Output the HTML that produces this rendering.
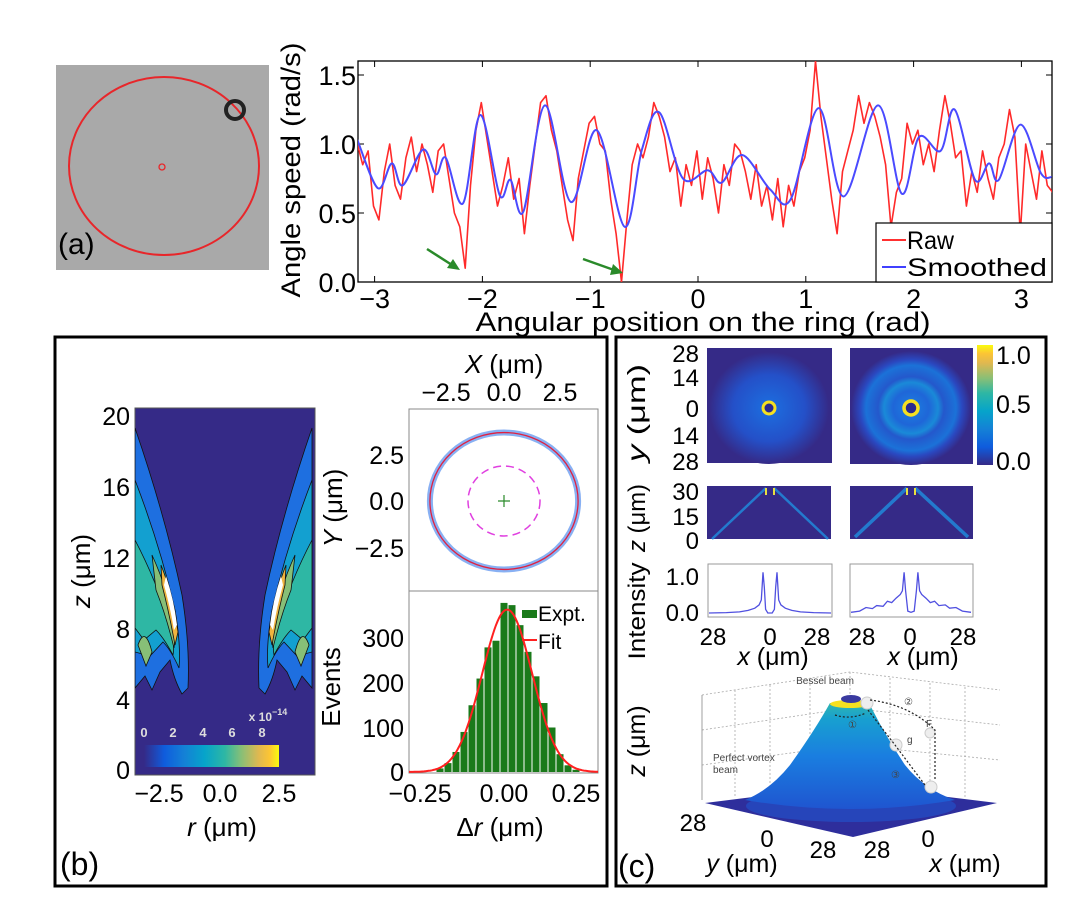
<!DOCTYPE html>
<html><head><meta charset="utf-8"><style>
html,body{margin:0;padding:0;background:#fff;}
svg{display:block;font-family:"Liberation Sans",Arial,sans-serif;}
</style></head><body>
<svg id="fig" width="1080" height="919" viewBox="0 0 1080 919" xmlns="http://www.w3.org/2000/svg">
<defs>
  <linearGradient id="parula" x1="0" x2="1" y1="0" y2="0">
    <stop offset="0" stop-color="#352a87"/><stop offset="0.15" stop-color="#0f5cdd"/><stop offset="0.3" stop-color="#1481d6"/>
    <stop offset="0.45" stop-color="#06a4ca"/><stop offset="0.6" stop-color="#2eb7a4"/><stop offset="0.72" stop-color="#87bf77"/>
    <stop offset="0.85" stop-color="#e0b850"/><stop offset="0.93" stop-color="#fcc534"/><stop offset="1" stop-color="#f9fb0e"/>
  </linearGradient>
  <linearGradient id="parulaV" x1="0" x2="0" y1="1" y2="0">
    <stop offset="0" stop-color="#352a87"/><stop offset="0.15" stop-color="#0f5cdd"/><stop offset="0.3" stop-color="#1481d6"/>
    <stop offset="0.45" stop-color="#06a4ca"/><stop offset="0.6" stop-color="#2eb7a4"/><stop offset="0.72" stop-color="#87bf77"/>
    <stop offset="0.85" stop-color="#e0b850"/><stop offset="0.93" stop-color="#fcc534"/><stop offset="1" stop-color="#f9fb0e"/>
  </linearGradient>
  <radialGradient id="glow1" cx="0.5" cy="0.5" r="0.5">
    <stop offset="0" stop-color="#1c6fe0"/><stop offset="0.6" stop-color="#2450c8"/><stop offset="1" stop-color="#352a87"/>
  </radialGradient>
  <radialGradient id="glow2" cx="0.5" cy="0.5" r="0.5">
    <stop offset="0" stop-color="#1a80e0"/><stop offset="0.3" stop-color="#1f66d8"/><stop offset="0.45" stop-color="#1a8ad8"/>
    <stop offset="0.55" stop-color="#2458cc"/><stop offset="0.75" stop-color="#1b72d8"/><stop offset="0.85" stop-color="#2a48c0"/><stop offset="1" stop-color="#352a87"/>
  </radialGradient>
  <linearGradient id="mount" x1="0" x2="0" y1="0" y2="1">
    <stop offset="0" stop-color="#2fb5b0"/><stop offset="0.15" stop-color="#18a0d0"/><stop offset="0.5" stop-color="#1a7ee0"/><stop offset="1" stop-color="#1f55d0"/>
  </linearGradient>
  <clipPath id="clipA"><rect x="358" y="61" width="694" height="221"/></clipPath>
  <clipPath id="clipC"><rect x="135" y="408" width="180" height="367"/></clipPath>
  <clipPath id="clipH"><rect x="409" y="591" width="189" height="182"/></clipPath>
</defs>

<g>
  <rect x="56" y="65" width="213" height="205" fill="#a9a9a9"/>
  <ellipse cx="164" cy="166" rx="95" ry="89" fill="none" stroke="#e8262a" stroke-width="2"/>
  <circle cx="162" cy="167" r="3" fill="none" stroke="#e8262a" stroke-width="1.3"/>
  <circle cx="235" cy="110" r="9" fill="none" stroke="#222" stroke-width="4"/>
  <text x="58" y="254" font-size="30" fill="#000">(a)</text>
</g>

<g id="chartA">
  <rect x="358" y="61" width="694" height="221" fill="#fff" stroke="#000" stroke-width="1.3"/>
  <g id="aTicks"></g>
  <g id="aSeries" clip-path="url(#clipA)"></g>
  <text transform="translate(300,170) rotate(-90)" text-anchor="middle" font-size="27" textLength="255" lengthAdjust="spacingAndGlyphs">Angle speed (rad/s)</text>
  <text x="703" y="331" text-anchor="middle" font-size="27" textLength="455" lengthAdjust="spacingAndGlyphs">Angular position on the ring (rad)</text>
  <g>
    <rect x="876" y="223" width="176" height="59" fill="#fff" stroke="#000" stroke-width="1.2"/>
    <line x1="882" y1="240" x2="906" y2="240" stroke="#ff3030" stroke-width="2"/>
    <text x="907" y="249" font-size="25" textLength="47" lengthAdjust="spacingAndGlyphs">Raw</text>
    <line x1="882" y1="267" x2="906" y2="267" stroke="#4040ff" stroke-width="2"/>
    <text x="907" y="276" font-size="25" textLength="140" lengthAdjust="spacingAndGlyphs">Smoothed</text>
  </g>
  <g stroke="#2a8a2a" fill="#2a8a2a" stroke-width="2.5">
    <line x1="427" y1="249" x2="452" y2="265"/><polygon points="460,270 447,268 453,259" stroke="none"/>
    <line x1="583" y1="259" x2="614" y2="270"/><polygon points="623,273 610,275 613,264" stroke="none"/>
  </g>
</g>

<rect x="55" y="337" width="552" height="549" fill="none" stroke="#000" stroke-width="3"/>
<rect x="616" y="337" width="430" height="549" fill="none" stroke="#000" stroke-width="3"/>
<text x="60" y="875" font-size="32">(b)</text>
<text x="618" y="877" font-size="32">(c)</text>

<g>
  <rect x="135" y="408" width="180" height="367" fill="#352a87" stroke="#555" stroke-width="1"/>
  <g clip-path="url(#clipC)">
    <g id="lobeL" stroke="#111" stroke-width="0.8">
      <path d="M135,428 Q165,515 182,595 Q190,645 188,688 L182,694 Q174,680 170,660 L160,672 L152,690 L145,676 L135,688 Z" fill="#1e6fe0"/>
      <path d="M135,480 Q160,545 175,610 Q181,645 179,668 Q171,650 163,642 L150,656 L135,652 Z" fill="#13a0d0"/>
      <path d="M135,540 Q156,580 170,625 Q175,645 173,655 Q164,638 156,630 L144,640 L135,628 Z" fill="#2eb7a4"/>
      <path d="M152,555 Q168,590 176,630 L174,648 Q166,615 156,590 Z" fill="#87bf77"/>
      <path d="M161,565 Q173,595 178,632 L175,645 Q169,612 162,585 Z" fill="#f0b440"/>
      <path d="M166,576 Q174,600 177,625 L174,630 Q170,606 164,585 Z" fill="#fff" stroke="none"/>
      <path d="M138,645 Q145,625 152,652 L146,666 Z" fill="#87bf77"/>
    </g>
    <use href="#lobeL" transform="translate(447,0) scale(-1,1)"/>
  </g>
  <rect x="144" y="745" width="135" height="22" fill="url(#parula)"/>
  <g font-size="13" font-weight="bold" fill="#ddd" text-anchor="middle">
    <text x="144" y="737">0</text><text x="173" y="737">2</text><text x="203" y="737">4</text><text x="232" y="737">6</text><text x="262" y="737">8</text>
    <text x="268" y="721" font-size="12">x 10<tspan dy="-6" font-size="9">−14</tspan></text>
  </g>
  <g font-size="25" text-anchor="end">
    <text x="130" y="425">20</text><text x="130" y="496">16</text><text x="130" y="567">12</text><text x="130" y="638">8</text><text x="130" y="709">4</text><text x="130" y="779">0</text>
  </g>
  <g font-size="25" text-anchor="middle">
    <text x="159" y="802">−2.5</text><text x="220" y="802">0.0</text><text x="279" y="802">2.5</text>
  </g>
  <text x="222" y="836" font-size="26" text-anchor="middle"><tspan font-style="italic">r</tspan> (μm)</text>
  <text transform="translate(90,571) rotate(-90)" font-size="26" text-anchor="middle"><tspan font-style="italic">z</tspan> (μm)</text>
</g>

<g id="scatter">
  <rect x="409" y="409" width="189" height="182" fill="#fff" stroke="#888" stroke-width="1"/>
  <text x="504" y="373" font-size="26" text-anchor="middle"><tspan font-style="italic">X</tspan> (μm)</text>
  <g font-size="25" text-anchor="middle"><text x="446" y="401">−2.5</text><text x="504" y="401">0.0</text><text x="560" y="401">2.5</text></g>
  <g font-size="25" text-anchor="end"><text x="404" y="464">2.5</text><text x="404" y="510">0.0</text><text x="404" y="557">−2.5</text></g>
  <text transform="translate(342,508) rotate(-90)" font-size="26" text-anchor="middle"><tspan font-style="italic">Y</tspan> (μm)</text>
</g>

<g id="hist">
  <rect x="409" y="591" width="189" height="182" fill="#fff" stroke="#888" stroke-width="1"/>
  <g id="hBars" clip-path="url(#clipH)"></g>
  <g font-size="25" text-anchor="end"><text x="404" y="781">0</text><text x="404" y="737">100</text><text x="404" y="692">200</text><text x="404" y="647">300</text></g>
  <g font-size="25" text-anchor="middle"><text x="420" y="802">−0.25</text><text x="504" y="802">0.00</text><text x="576" y="802">0.25</text></g>
  <text x="500" y="836" font-size="26" text-anchor="middle">Δ<tspan font-style="italic">r</tspan> (μm)</text>
  <text transform="translate(340,687) rotate(-90)" font-size="26" text-anchor="middle">Events</text>
  <rect x="522" y="610" width="15" height="8" fill="#1a7a1a"/>
  <text x="538" y="621" font-size="21">Expt.</text>
  <line x1="522" y1="640" x2="537" y2="640" stroke="#ff2020" stroke-width="2"/>
  <text x="538" y="649" font-size="21">Fit</text>
</g>

<g>
  <rect x="707" y="348" width="125" height="115" fill="#352a87"/>
  <ellipse cx="769" cy="408" rx="60" ry="56" fill="url(#glow1)"/>
  <circle cx="769" cy="408" r="6" fill="#2a2a90" stroke="#f5e020" stroke-width="3"/>
  <rect x="850" y="348" width="123" height="116" fill="#352a87"/>
  <ellipse cx="911" cy="408" rx="60" ry="57" fill="url(#glow2)"/>
  <circle cx="911" cy="408" r="7" fill="#2a2a90" stroke="#f5e020" stroke-width="3.5"/>
  <rect x="977" y="345" width="16" height="120" fill="url(#parulaV)"/>
  <g font-size="25"><text x="996" y="364">1.0</text><text x="996" y="413">0.5</text><text x="996" y="470">0.0</text></g>
  <g font-size="24" text-anchor="end"><text x="699" y="362">28</text><text x="699" y="386">14</text><text x="699" y="417">0</text><text x="699" y="444">14</text><text x="699" y="470">28</text></g>
  <text transform="translate(645,413) rotate(-90)" font-size="25" text-anchor="middle" textLength="98" lengthAdjust="spacingAndGlyphs"><tspan font-style="italic">y</tspan> (μm)</text>

  <rect x="707" y="486" width="124" height="53" fill="#352a87"/>
  <path d="M766,488 L712,539 M774,488 L828,539" stroke="#1f8fe0" stroke-width="2.5" opacity="0.8"/>
  <path d="M766,488 L766,495 M774,488 L774,495" stroke="#e8e040" stroke-width="2"/>
  <rect x="850" y="486" width="123" height="53" fill="#352a87"/>
  <path d="M907,488 L855,537 M915,488 L968,537" stroke="#1f8fe0" stroke-width="3.5" opacity="0.8"/>
  <path d="M907,488 L907,495 M915,488 L915,495" stroke="#e8e040" stroke-width="2"/>
  <g font-size="24" text-anchor="end"><text x="699" y="500">30</text><text x="699" y="525">15</text><text x="699" y="549">0</text></g>
  <text transform="translate(645,518) rotate(-90)" font-size="24" text-anchor="middle" textLength="68" lengthAdjust="spacingAndGlyphs"><tspan font-style="italic">z</tspan> (μm)</text>
</g>

<g id="profiles">
  <rect x="708" y="564" width="124" height="53" fill="#fff" stroke="#999" stroke-width="1"/>
  <rect x="850" y="564" width="123" height="53" fill="#fff" stroke="#999" stroke-width="1"/>
  <g font-size="24" text-anchor="end"><text x="699" y="585">1.0</text><text x="699" y="621">0.0</text></g>
  <text transform="translate(645,611) rotate(-90)" font-size="24" text-anchor="middle" textLength="97" lengthAdjust="spacingAndGlyphs">Intensity</text>
  <g font-size="24" text-anchor="middle">
    <text x="713" y="645">28</text><text x="770" y="645">0</text><text x="817" y="645">28</text>
    <text x="862" y="645">28</text><text x="910" y="645">0</text><text x="963" y="645">28</text>
  </g>
  <text x="773" y="665" font-size="25" text-anchor="middle"><tspan font-style="italic">x</tspan> (μm)</text>
  <text x="923" y="665" font-size="25" text-anchor="middle"><tspan font-style="italic">x</tspan> (μm)</text>
</g>

<g>
  <g stroke="#aaa" stroke-width="0.8" stroke-dasharray="2,2" fill="none">
    <path d="M702,695 L850,672 L1000,690"/><path d="M702,730 L850,708 L1000,725"/><path d="M702,765 L850,745 L1000,760"/>
    <path d="M735,690 L735,797 M770,685 L770,792 M810,680 L810,787 M850,672 L850,783 M890,678 L890,788 M930,683 L930,792 M965,687 L965,797"/>
  </g>
  <line x1="702" y1="695" x2="702" y2="800" stroke="#888" stroke-width="0.8"/>
  <polygon points="705,803 850,785 997,803 853,837" fill="#2e2e9c"/>
  <ellipse cx="851" cy="806" rx="105" ry="16" fill="#2450c8" opacity="0.7"/>
  <path d="M745,800 Q770,790 790,765 Q815,730 830,703 L870,705 Q885,735 905,765 Q925,790 955,800 Q850,818 745,800 Z" fill="url(#mount)"/>
  <ellipse cx="850" cy="704" rx="20" ry="4" fill="#f5e020"/>
  <ellipse cx="851" cy="699" rx="10" ry="4" fill="#3a3aa0"/>
  <g fill="#eee" stroke="#ccc"><circle cx="867" cy="703" r="6"/><circle cx="896" cy="745" r="6"/><circle cx="930" cy="733" r="5"/><circle cx="931" cy="787" r="6"/></g>
  <g fill="none" stroke="#222" stroke-width="1.2" stroke-dasharray="2,2">
    <path d="M835,715 Q850,720 866,713"/><path d="M868,710 L895,745 L925,785"/><path d="M870,700 Q910,705 935,730 L935,780"/>
  </g>
  <g font-size="10" fill="#444">
    <text x="825" y="684" text-anchor="middle">Bessel beam</text>
    <text x="713" y="761">Perfect vortex</text><text x="713" y="773">beam</text>
    <text x="926" y="727">F</text><text x="907" y="743">g</text>
    <text x="848" y="728">①</text><text x="904" y="705">②</text><text x="891" y="778">③</text>
  </g>
  <g font-size="24" text-anchor="middle">
    <text x="693" y="831">28</text><text x="767" y="847">0</text><text x="823" y="858">28</text><text x="877" y="858">28</text><text x="928" y="847">0</text>
  </g>
  <text x="742" y="872" font-size="25" text-anchor="middle"><tspan font-style="italic">y</tspan> (μm)</text>
  <text x="965" y="872" font-size="25" text-anchor="middle"><tspan font-style="italic">x</tspan> (μm)</text>
  <text transform="translate(645,741) rotate(-90)" font-size="25" text-anchor="middle"><tspan font-style="italic">z</tspan> (μm)</text>
</g>
</svg>
<script>
const aXTicks = [-3, -2, -1, 0, 1, 2, 3];
const aYTicks = [0.0, 0.5, 1.0, 1.5];
const aYTickLabels = ["0.0", "0.5", "1.0", "1.5"];
const smoothX = [-3.16,-2.97,-2.84,-2.74,-2.55,-2.43,-2.34,-2.18,-2.02,-1.84,-1.74,-1.62,-1.42,-1.18,-0.94,-0.68,-0.52,-0.36,-0.14,0.09,0.22,0.41,0.67,0.86,1.12,1.35,1.67,1.89,2.05,2.25,2.38,2.57,2.70,2.79,2.99,3.18,3.28];
const smoothY = [1.03,0.68,0.86,0.70,0.96,0.78,0.90,0.57,1.21,0.63,0.74,0.51,1.28,0.58,1.10,0.40,0.96,1.23,0.75,0.81,0.72,0.92,0.67,0.60,1.26,0.62,1.28,0.64,1.05,0.95,1.25,0.74,0.86,0.74,1.14,0.79,0.76];
const rawStart = -3.16;
const rawStep = 0.05;
const rawY = [1.0,0.85,0.95,0.55,0.45,0.8,1.0,0.7,0.6,0.9,1.05,0.8,1.0,0.85,0.65,0.95,1.0,0.75,0.5,0.4,0.1,0.7,1.1,1.3,1.05,0.8,0.55,0.7,0.9,0.6,0.75,0.35,0.7,1.0,1.3,1.35,1.1,0.95,0.7,0.45,0.3,0.75,0.95,1.15,1.2,1.0,0.95,0.6,0.35,0.0,0.45,0.85,1.0,0.9,1.05,1.3,1.2,1.05,0.8,0.9,0.55,0.85,0.7,0.95,0.6,0.9,0.75,0.5,0.85,0.7,1.0,0.95,0.8,0.6,0.85,0.55,0.7,0.45,0.75,0.4,0.7,0.55,0.8,0.9,1.1,1.6,1.2,0.9,0.6,0.35,0.8,0.95,1.1,1.35,1.15,1.3,1.2,1.05,0.85,0.4,0.65,0.75,1.15,1.0,1.1,0.85,1.0,0.8,1.1,1.35,1.15,0.9,0.95,0.55,0.8,0.65,0.95,0.75,0.6,0.9,1.0,1.25,1.05,0.35,1.0,0.8,0.6,0.95,0.7,0.65];
const ringR = [3.25, 3.72];
const innerR = [1.58, 1.9];
const histX = [-0.20,-0.175,-0.15,-0.125,-0.10,-0.075,-0.05,-0.025,0.0,0.025,0.05,0.075,0.10,0.125,0.15,0.175,0.20,0.225];
const histY = [8,20,45,90,150,210,280,295,380,375,330,270,215,155,100,40,15,5];
const fitAmp = [365];
const fitMean = [0.01];
const fitSigma = [0.078];
const prof1X = [-28,-20,-14,-10,-7,-5,-4,-3.2,-2.6,-2,-1,0,1,2,2.6,3.2,4,5,7,10,14,20,28];
const prof1Y = [0,0.01,0.03,0.07,0.13,0.22,0.35,1.1,0.7,0.1,0,0,0,0.1,0.7,1.1,0.35,0.22,0.13,0.07,0.03,0.01,0];
const prof2X = [-28,-24,-21,-18,-16,-13,-11,-9,-7,-5,-4,-3.2,-2.5,-1.5,0,1.5,2.5,3.2,4,5,7,9,11,13,16,18,21,24,28];
const prof2Y = [0.02,0.05,0.15,0.12,0.2,0.18,0.32,0.28,0.4,0.5,0.6,1.1,0.6,0.05,0.02,0.05,0.6,1.1,0.6,0.5,0.4,0.28,0.32,0.2,0.22,0.13,0.15,0.05,0.02];

const NS = "http://www.w3.org/2000/svg";
function mk(tag, attrs, parent){ const e=document.createElementNS(NS,tag); for(const k in attrs) e.setAttribute(k,attrs[k]); parent.appendChild(e); return e; }

const xa = v => 698 + v*107.8;
const ya = v => 282 - v*138;
const aTicks = document.getElementById('aTicks');
aXTicks.forEach(t=>{
  mk('line',{x1:xa(t),x2:xa(t),y1:282,y2:276,stroke:'#000'},aTicks);
  mk('line',{x1:xa(t),x2:xa(t),y1:61,y2:67,stroke:'#000'},aTicks);
  const tx = mk('text',{x:xa(t),y:308,'font-size':27,'text-anchor':'middle'},aTicks);
  tx.textContent = t<0 ? '−'+Math.abs(t) : String(t);
  
  
});
aYTicks.forEach((t,i)=>{
  mk('line',{x1:358,x2:364,y1:ya(t),y2:ya(t),stroke:'#000'},aTicks);
  mk('line',{x1:1052,x2:1046,y1:ya(t),y2:ya(t),stroke:'#000'},aTicks);
  const tx = mk('text',{x:356,y:ya(t)+10,'font-size':27,'text-anchor':'end'},aTicks);
  tx.textContent = aYTickLabels[i];
  
  
});
const aS = document.getElementById('aSeries');
const rawPts = rawY.map((v,i)=>xa(rawStart+i*rawStep).toFixed(1)+','+ya(v).toFixed(1)).join(' ');
const rawLine = mk('polyline',{points:rawPts,fill:'none',stroke:'#ff2a2a','stroke-width':1.6,'stroke-linejoin':'round'},aS);


const smPts = smoothX.map((x,i)=>[xa(x),ya(smoothY[i])]);
let d = 'M'+smPts[0][0]+','+smPts[0][1];
for(let i=0;i<smPts.length-1;i++){
  const p0=smPts[Math.max(0,i-1)],p1=smPts[i],p2=smPts[i+1],p3=smPts[Math.min(smPts.length-1,i+2)];
  d+=' C'+(p1[0]+(p2[0]-p0[0])/6)+','+(p1[1]+(p2[1]-p0[1])/6)+' '+(p2[0]-(p3[0]-p1[0])/6)+','+(p2[1]-(p3[1]-p1[1])/6)+' '+p2[0]+','+p2[1];
}
const smLine = mk('path',{d:d,fill:'none',stroke:'#4a4aff','stroke-width':2},aS);



const xs = v => 504 + v*22.8;
const ys = v => 501 - v*18.4;
const sc = document.getElementById('scatter');
const band = mk('ellipse',{cx:xs(0),cy:ys(0),rx:ringR[0]*22.8,ry:ringR[1]*18.4,fill:'none',stroke:'#6a9cf0','stroke-width':6,opacity:0.8},sc);


const fitRing = mk('ellipse',{cx:xs(0),cy:ys(0),rx:ringR[0]*22.8,ry:ringR[1]*18.4,fill:'none',stroke:'#e02040','stroke-width':1.3},sc);


const inner = mk('ellipse',{cx:xs(0),cy:ys(0),rx:innerR[0]*22.8,ry:innerR[1]*18.4,fill:'none',stroke:'#e040e0','stroke-width':1.5,'stroke-dasharray':'8,5'},sc);


mk('path',{d:`M${xs(0)-6},${ys(0)} h12 M${xs(0)},${ys(0)-6} v12`,stroke:'#2a8a2a','stroke-width':1.2},sc);

const xh = v => 504 + v*320;
const yh = v => 772 - v*0.445;
const hb = document.getElementById('hBars');
histX.forEach((x,i)=>{
  const b = mk('rect',{x:xh(x)-3.5,y:yh(histY[i]),width:7,height:yh(0)-yh(histY[i]),fill:'#1a7a1a'},hb);
  
  
});
let fd='';
for(let v=-0.3; v<=0.3; v+=0.005){
  const g = fitAmp[0]*Math.exp(-Math.pow(v-fitMean[0],2)/(2*fitSigma[0]*fitSigma[0]));
  fd += (fd?' L':'M')+xh(v).toFixed(1)+','+yh(g).toFixed(1);
}
const fitC = mk('path',{d:fd,fill:'none',stroke:'#ff2020','stroke-width':2},hb);



const pr = document.getElementById('profiles');
const yp = v => 613 - v*37;
function prof(X,Y,cx,half,name){
  const pts = X.map((x,i)=>(cx + x*half/28).toFixed(1)+','+yp(Math.min(Y[i],1.3)).toFixed(1)).join(' ');
  const l = mk('polyline',{points:pts,fill:'none',stroke:'#5050e0','stroke-width':1.3},pr);
  
  
}
prof(prof1X,prof1Y,770,61,'profile-line-1');
prof(prof2X,prof2Y,911,60,'profile-line-2');
</script>
</body></html>
